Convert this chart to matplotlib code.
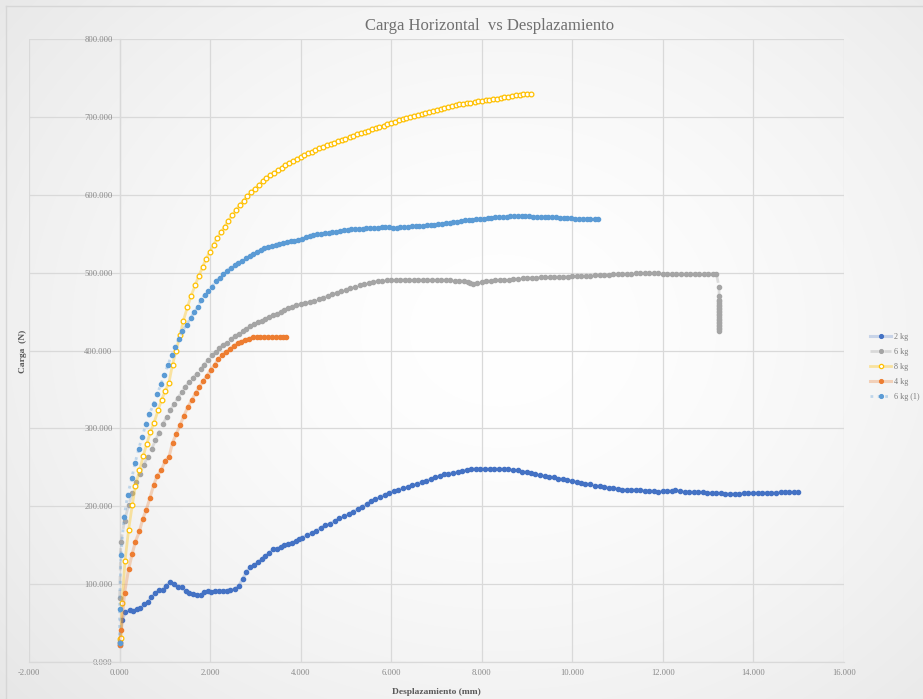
import numpy as np
import matplotlib
matplotlib.use("Agg")
import matplotlib.pyplot as plt
from matplotlib.ticker import FuncFormatter, MultipleLocator

# ---- Series: displacement (mm) vs horizontal load (N) ----
x_2kg = [0.0, 0.0, 0.055, 0.13, 0.22, 0.29, 0.38, 0.46, 0.55, 0.63, 0.70, 0.79, 0.87, 0.95,
         1.03, 1.12, 1.20, 1.29, 1.37, 1.46, 1.54, 1.63, 1.71, 1.79, 1.87, 1.95, 2.03, 2.11,
         2.20, 2.28, 2.37, 2.45, 2.54, 2.63, 2.72, 2.80, 2.88, 2.97, 3.05, 3.14, 3.22, 3.30,
         3.39, 3.48, 3.56, 3.64, 3.72, 3.81, 3.89, 3.97,
         4.03, 4.14, 4.24, 4.34, 4.45, 4.54, 4.65, 4.76, 4.85, 4.96, 5.06, 5.15, 5.26, 5.36,
         5.46, 5.55, 5.65, 5.76, 5.86, 5.96, 6.06, 6.16, 6.26, 6.37, 6.46, 6.57, 6.67, 6.76,
         6.87, 6.96, 7.07, 7.17, 7.26, 7.37, 7.47, 7.57, 7.67, 7.77, 7.88, 7.97, 8.07, 8.18,
         8.28, 8.38, 8.48, 8.58, 8.68, 8.79, 8.88, 8.99, 9.09, 9.18, 9.29, 9.39, 9.49, 9.59,
         9.69, 9.79, 9.89, 9.99, 10.10, 10.20, 10.29, 10.40, 10.50, 10.60, 10.70, 10.80, 10.90,
         11.00, 11.10, 11.20, 11.30, 11.40, 11.50, 11.60, 11.70, 11.80, 11.90, 12.00, 12.10,
         12.20, 12.27, 12.37, 12.48, 12.58, 12.68, 12.78, 12.88, 12.98, 13.08, 13.18, 13.29,
         13.38, 13.49, 13.59, 13.68, 13.79, 13.89, 13.99, 14.09, 14.19, 14.29, 14.39, 14.49,
         14.60, 14.70, 14.79, 14.90, 14.99]
y_2kg = [21.5, 26.0, 53.6, 64.0, 66.5, 65.0, 68.0, 68.7, 74.0, 77.0, 83.0, 88.0, 92.0, 93.0,
         98.0, 103.0, 99.6, 95.7, 95.7, 91.4, 88.4, 87.6, 86.3, 85.4, 89.3, 90.6, 90.1, 90.6,
         91.4, 91.4, 91.8, 92.7, 93.6, 97.4, 106.9, 115.0, 121.5, 124.0, 128.0, 132.0, 136.5, 139.5,
         144.6, 145.5, 148.0, 149.8, 151.5, 153.0, 155.0, 157.5,
         159.7, 162.7, 165.7, 168.0, 172.5, 175.5, 177.7, 181.0, 184.5, 187.0, 190.0, 193.0, 196.0, 199.6,
         203.0, 207.0, 209.0, 212.0, 214.6, 217.6, 219.0, 221.5, 223.0, 225.0, 227.0, 229.0, 231.0, 232.6,
         234.8, 237.0, 239.0, 240.8, 242.0, 243.3, 244.0, 245.5, 246.8, 247.6, 248.0, 248.0, 248.0, 248.0,
         248.0, 248.0, 248.0, 247.2, 246.4, 246.0, 244.6, 244.0, 242.5, 240.8, 239.5, 238.6, 237.8, 237.0,
         235.6, 234.8, 233.5, 232.6, 231.3, 230.0, 229.2, 228.0, 226.6, 225.8, 225.0, 224.0, 223.6,
         222.7, 221.5, 221.0, 221.0, 221.0, 220.6, 220.2, 219.7, 219.3, 218.9, 219.3, 219.3,
         219.7, 220.6, 219.3, 218.5, 218.0, 218.0, 218.0, 218.0, 217.2, 217.2, 216.7, 216.7,
         216.3, 216.3, 215.9, 216.3, 216.7, 216.7, 217.2, 217.2, 217.2, 217.6, 217.6, 217.6,
         218.0, 218.0, 218.0, 218.0, 218.0]

x_6kg = [0.0, 0.03, 0.11, 0.20, 0.28, 0.36, 0.45, 0.53, 0.62, 0.71, 0.79, 0.87, 0.95, 1.04,
         1.12, 1.21, 1.29, 1.37, 1.45, 1.54, 1.62, 1.70, 1.79, 1.87, 1.95, 2.04, 2.12, 2.20,
         2.29, 2.37, 2.46, 2.55, 2.63, 2.72, 2.80, 2.89, 2.97, 3.06, 3.14, 3.22, 3.31, 3.39,
         3.48, 3.56, 3.64, 3.72, 3.81, 3.90,
         4.0, 4.1, 4.2, 4.3, 4.4, 4.5, 4.6, 4.7, 4.8, 4.9,
         5.0, 5.1, 5.2, 5.3, 5.4, 5.5, 5.6, 5.7, 5.8, 5.9,
         6.0, 6.1, 6.2, 6.3, 6.4, 6.5, 6.6, 6.7, 6.8, 6.9,
         7.0, 7.1, 7.2, 7.3, 7.4, 7.5, 7.6, 7.7,
         7.75, 7.8, 7.9,
         8.0, 8.1, 8.2, 8.3, 8.4, 8.5, 8.6, 8.7, 8.8, 8.9,
         9.0, 9.1, 9.2, 9.3, 9.4, 9.5, 9.6, 9.7, 9.8, 9.9,
         10.0, 10.1, 10.2, 10.3, 10.4, 10.5, 10.6, 10.7, 10.8, 10.9,
         11.0, 11.1, 11.2, 11.3, 11.4, 11.5, 11.6, 11.7, 11.8, 11.9,
         12.0, 12.1, 12.2, 12.3, 12.4, 12.5, 12.6, 12.7, 12.8, 12.9, 13.0, 13.1, 13.18,
         13.24, 13.24, 13.24, 13.24, 13.24, 13.24, 13.24, 13.24, 13.24, 13.24, 13.24, 13.24,
         13.24, 13.24, 13.24, 13.24, 13.24, 13.24, 13.24, 13.24, 13.24, 13.24, 13.24]
y_6kg = [82.0, 154.5, 181.5, 201.5, 217.5, 230.8, 242.0, 252.6, 263.3, 273.5, 284.6, 294.4, 305.0, 314.5,
         323.0, 331.6, 339.3, 346.6, 353.4, 359.4, 365.0, 370.0, 376.0, 381.6, 388.0, 393.6, 398.3, 403.0,
         407.3, 410.0, 414.5, 418.4, 421.8, 424.8, 427.8, 431.2, 433.8, 436.0, 438.5, 440.6, 443.0, 445.3,
         447.4, 450.0, 452.0, 454.3, 456.4, 458.0,
         459.5, 461.0, 462.5, 464.0, 466.0, 468.0, 470.0, 472.3, 474.3, 476.3,
         478.3, 480.2, 482.0, 484.0, 485.5, 486.5, 487.8, 488.8, 489.5, 490.0,
         490.4, 490.8, 491.0, 491.0, 491.0, 491.0, 490.8, 490.6, 490.6, 490.6,
         490.6, 490.4, 490.2, 490.0, 489.6, 489.4, 489.0, 488.2,
         486.5, 485.5, 487.2,
         488.5, 489.3, 489.8, 490.2, 490.4, 490.6, 491.0, 491.5, 492.0, 492.6,
         493.0, 493.3, 493.6, 493.9, 494.1, 494.4, 494.5, 494.6, 494.9, 495.0,
         495.1, 495.3, 495.6, 495.9, 496.2, 496.5, 496.8, 497.0, 497.3, 497.6,
         497.9, 498.2, 498.5, 498.8, 499.1, 499.2, 499.2, 499.1, 499.1, 499.0,
         498.8, 498.7, 498.7, 498.7, 498.7, 498.7, 498.7, 498.7, 498.7, 498.7, 498.7, 498.7, 498.7,
         481.8, 470.0, 465.0, 463.0, 461.0, 459.0, 457.0, 455.0, 453.0, 451.0, 449.0, 447.0,
         445.0, 443.0, 441.0, 439.0, 437.0, 435.0, 433.0, 431.0, 429.0, 427.0, 425.5]

x_8kg = [0.0, 0.03, 0.055, 0.12, 0.20, 0.28, 0.35, 0.44, 0.52, 0.60, 0.68, 0.76, 0.85, 0.93,
         1.01, 1.09, 1.17, 1.25, 1.34, 1.41, 1.50, 1.58, 1.67, 1.75, 1.84, 1.91, 2.00, 2.08,
         2.16, 2.24, 2.32, 2.40, 2.49, 2.57, 2.65, 2.74, 2.82, 2.91, 2.99, 3.08, 3.16, 3.24,
         3.33, 3.41, 3.50, 3.58, 3.66, 3.75, 3.83, 3.92, 4.00, 4.08, 4.16, 4.24, 4.32, 4.41,
         4.49, 4.58, 4.66, 4.74, 4.83, 4.91, 4.99, 5.08, 5.16, 5.24, 5.33, 5.41, 5.49, 5.58,
         5.66, 5.74, 5.83, 5.91, 6.00, 6.08, 6.17, 6.25, 6.33, 6.42, 6.50, 6.59, 6.67, 6.75,
         6.84, 6.92, 7.00, 7.09, 7.17, 7.25, 7.34, 7.42, 7.50, 7.59, 7.67, 7.75, 7.84, 7.92,
         8.00, 8.09, 8.17, 8.25, 8.34, 8.42, 8.50, 8.59, 8.67, 8.75, 8.84, 8.92, 9.00, 9.09]
y_8kg = [30.0, 31.0, 76.0, 129.6, 170.0, 201.0, 226.0, 246.0, 264.0, 280.0, 295.0, 307.0, 323.0, 337.0,
         348.3, 358.5, 382.0, 400.0, 420.5, 438.5, 456.0, 470.0, 484.0, 496.0, 507.7, 518.0, 527.0, 536.0,
         544.4, 551.7, 559.0, 566.7, 573.5, 580.3, 586.8, 592.3, 598.3, 603.0, 608.0, 612.8, 617.5, 621.8,
         625.0, 628.0, 631.6, 634.6, 638.5, 641.0, 643.6, 645.7, 648.3, 651.0, 653.0, 655.0, 657.3, 659.4,
         661.5, 663.7, 665.4, 667.0, 668.8, 670.5, 672.2, 674.0, 675.6, 677.4, 679.0, 680.8, 682.0, 683.8,
         685.5, 687.2, 688.9, 690.6, 692.3, 694.0, 695.7, 697.0, 698.3, 700.0, 701.3, 702.6, 703.8, 705.0,
         706.4, 707.7, 709.0, 710.3, 711.5, 712.8, 714.0, 715.4, 716.2, 717.0, 718.0, 718.4, 719.2, 720.0,
         721.0, 721.4, 721.8, 722.6, 723.5, 724.4, 725.2, 726.0, 727.0, 727.8, 728.6, 729.0, 729.0, 729.0]

x_4kg = [0.0, 0.0, 0.04, 0.11, 0.20, 0.28, 0.35, 0.44, 0.51, 0.59, 0.67, 0.75, 0.83, 0.92,
         1.01, 1.09, 1.17, 1.25, 1.34, 1.42, 1.51, 1.59, 1.68, 1.76, 1.85, 1.93, 2.01, 2.10,
         2.18, 2.27, 2.35, 2.44, 2.52, 2.61, 2.69, 2.77, 2.86, 2.94, 3.03, 3.11, 3.20, 3.28,
         3.37, 3.45, 3.54, 3.62, 3.67]
y_4kg = [21.5, 24.5, 40.8, 88.8, 119.3, 139.0, 154.5, 167.8, 183.2, 195.5, 210.4, 226.7, 239.0, 246.0,
         258.6, 262.9, 281.5, 292.5, 304.5, 316.0, 327.6, 336.0, 345.3, 352.6, 361.0, 367.5, 375.2, 381.6,
         389.0, 394.0, 398.3, 402.0, 406.4, 409.4, 411.5, 413.7, 415.4, 416.7, 417.5, 417.5, 417.5, 417.0,
         417.0, 417.0, 417.0, 417.0, 417.0]

x_6kg_1 = [0.0, 0.0, 0.03, 0.10, 0.18, 0.27, 0.34, 0.42, 0.50, 0.58, 0.66, 0.75, 0.83, 0.91,
           0.99, 1.07, 1.15, 1.23, 1.31, 1.39, 1.48, 1.57, 1.65, 1.73, 1.80, 1.88, 1.96, 2.04,
           2.13, 2.21, 2.29, 2.37, 2.46, 2.54, 2.62, 2.70, 2.79, 2.87, 2.95, 3.03, 3.12, 3.20,
           3.28, 3.37, 3.45, 3.53, 3.61, 3.70, 3.78, 3.86, 3.95, 4.03, 4.11, 4.20, 4.28, 4.37,
           4.45, 4.54, 4.62, 4.70, 4.79, 4.87, 4.95, 5.04, 5.12, 5.20, 5.29, 5.37, 5.45, 5.54,
           5.62, 5.70, 5.79, 5.87, 5.95, 6.04, 6.12, 6.20, 6.29, 6.37, 6.45, 6.54, 6.62, 6.70,
           6.79, 6.87, 6.95, 7.04, 7.12, 7.20, 7.29, 7.37, 7.46, 7.54, 7.63, 7.71, 7.79, 7.88,
           7.96, 8.05, 8.13, 8.21, 8.30, 8.38, 8.46, 8.55, 8.63, 8.71, 8.80, 8.88, 8.96, 9.05,
           9.13, 9.22, 9.30, 9.39, 9.47, 9.56, 9.64, 9.72, 9.81, 9.89, 9.98, 10.06, 10.15,
           10.23, 10.32, 10.40, 10.49, 10.57]
y_6kg_1 = [25.0, 68.0, 137.0, 186.0, 215.0, 236.0, 255.0, 273.0, 289.5, 305.0, 318.5, 331.5, 343.6, 356.4,
           369.0, 382.0, 393.6, 405.0, 415.0, 425.0, 433.0, 442.0, 449.0, 456.0, 465.0, 471.4, 476.5, 482.0,
           488.9, 493.6, 498.3, 502.6, 506.4, 509.4, 512.0, 515.4, 518.4, 521.4, 524.0, 527.0, 529.0, 531.2,
           533.0, 534.2, 535.5, 536.8, 537.6, 539.0, 540.2, 541.0, 541.9, 543.2, 545.3, 547.0, 548.3, 549.1,
           550.0, 550.9, 551.3, 552.1, 552.6, 553.4, 554.3, 554.7, 555.6, 555.6, 556.0, 556.4, 556.8, 557.3,
           557.3, 557.7, 558.1, 558.1, 558.1, 557.7, 557.7, 558.1, 558.5, 559.0, 559.4, 559.4, 559.8, 560.3,
           560.7, 561.1, 561.5, 562.0, 562.8, 563.2, 564.0, 564.5, 565.4, 566.2, 567.0, 567.5, 568.0, 568.4,
           568.8, 569.2, 570.0, 570.5, 571.0, 571.4, 571.8, 571.8, 572.2, 572.2, 572.2, 572.2, 572.2, 572.2,
           571.8, 571.4, 571.4, 571.4, 571.4, 571.0, 571.0, 570.5, 570.3, 570.0, 569.7, 569.4, 569.2,
           569.0, 568.8, 568.8, 568.8, 568.8]

W, H = 923, 699
fig = plt.figure(figsize=(W / 100, H / 100), dpi=100)
fig.patch.set_facecolor("#f4f4f4")

# soft radial shading of the chart area
bg = fig.add_axes([0, 0, 1, 1], zorder=-10)
yy, xx = np.mgrid[0:H, 0:W]
r = np.hypot((xx - 500) / 620.0, (yy - 330) / 520.0)
shade = 1.0 - 0.085 * np.clip(r, 0, 1.3) ** 1.6
bg.imshow(np.dstack([shade] * 3), extent=[0, W, H, 0], aspect="auto")
bg.set_xlim(0, W)
bg.set_ylim(H, 0)
bg.axis("off")
# chart area border
bg.plot([6, 6], [H, 6], color="#d6d6d6", lw=1.0)
bg.plot([6, W], [6, 6], color="#d6d6d6", lw=1.0)

ax = fig.add_axes([29 / W, 1 - 662 / H, (844 - 29) / W, (662 - 39) / H])
ax.set_facecolor("none")

serif = "Liberation Serif"
grid_c = "#d9d9d9"
tick_c = "#8a8a8a"

ax.set_xlim(-2, 16)
ax.set_ylim(0, 800)
ax.xaxis.set_major_locator(MultipleLocator(2))
ax.yaxis.set_major_locator(MultipleLocator(100))
fmt = FuncFormatter(lambda v, p: f"{v:.3f}")
ax.xaxis.set_major_formatter(fmt)
ax.yaxis.set_major_formatter(fmt)
ax.grid(True, color=grid_c, lw=0.9, zorder=0)
ax.set_axisbelow(True)
for s in ["top", "right"]:
    ax.spines[s].set_visible(False)
ax.spines["left"].set_position(("data", 0))
ax.spines["left"].set_color(grid_c)
ax.spines["bottom"].set_color(grid_c)
ax.spines["left"].set_linewidth(0.9)
ax.spines["bottom"].set_linewidth(0.9)
ax.tick_params(axis="both", length=0, colors=tick_c, labelsize=6.2)
ax.tick_params(axis="y", pad=5)
ax.tick_params(axis="x", pad=5)
for lab in ax.get_xticklabels() + ax.get_yticklabels():
    lab.set_fontfamily(serif)

ms = 3.0
ax.plot(x_2kg, y_2kg, color=(0.27, 0.45, 0.77, 0.25), lw=2.2, zorder=2,
        marker="o", ms=ms, mfc="#4472C4", mec="#4472C4", label="2 kg")
ax.plot(x_6kg, y_6kg, color=(0.65, 0.65, 0.65, 0.35), lw=2.0, ls=(0, (3, 2)), zorder=3,
        marker="o", ms=ms, mfc="#a5a5a5", mec="#a5a5a5", label="6 kg")
ax.plot(x_8kg, y_8kg, color=(1.0, 0.75, 0.0, 0.35), lw=2.0, zorder=4,
        marker="o", ms=3.4, mfc="white", mec="#ffc000", mew=0.9, label="8 kg")
ax.plot(x_4kg, y_4kg, color=(0.93, 0.49, 0.19, 0.3), lw=2.2, zorder=5,
        marker="o", ms=ms, mfc="#ed7d31", mec="#ed7d31", label="4 kg")
ax.plot(x_6kg_1, y_6kg_1, color=(0.36, 0.61, 0.84, 0.35), lw=2.0, ls=":", zorder=6,
        marker="o", ms=ms, mfc="#5b9bd5", mec="#5b9bd5", label="6 kg (1)")

ax.set_xlabel("Desplazamiento (mm)", fontfamily=serif, fontsize=6.8, fontweight="bold",
              color="#595959", labelpad=8)
fig.text(23 / W, 1 - 351 / H, "Carga  (N)", rotation=90, ha="center", va="center",
         fontfamily=serif, fontsize=6.8, fontweight="bold", color="#595959")

fig.text(490 / W, 1 - 26 / H, "Carga Horizontal  vs Desplazamiento", ha="center", va="center",
         fontfamily=serif, fontsize=12, color="#707070")

leg = ax.legend(loc="upper left", bbox_to_anchor=(866 / W, 1 - 329 / H),
                bbox_transform=fig.transFigure, frameon=False,
                prop={"family": serif, "size": 5.9}, handlelength=2.6, handletextpad=0.3,
                labelspacing=0.85, borderpad=0, markerscale=0.9)
for t in leg.get_texts():
    t.set_color("#7a7a7a")

fig.savefig("out.png", dpi=100, facecolor=fig.get_facecolor())
